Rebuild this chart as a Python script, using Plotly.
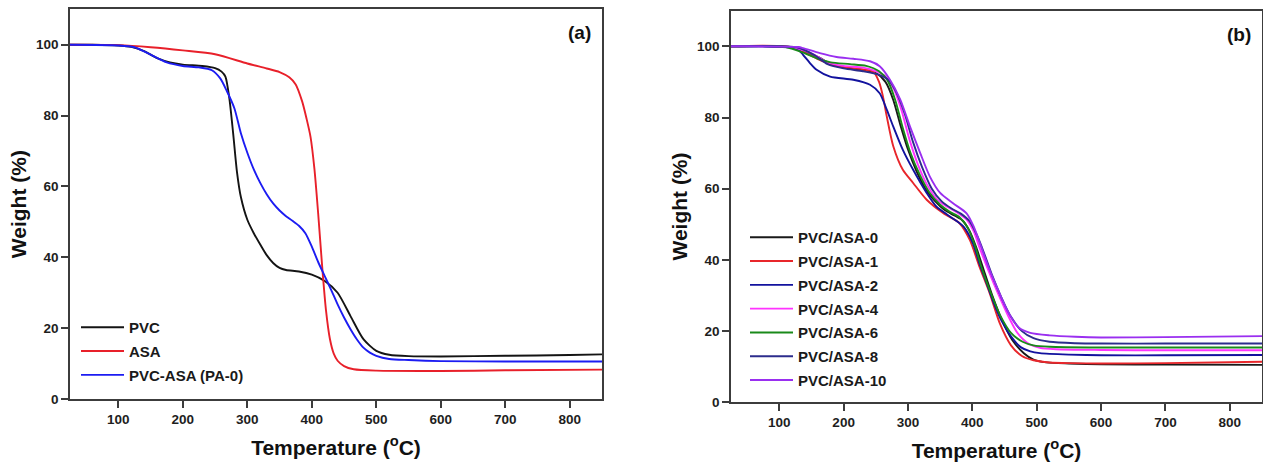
import plotly.graph_objects as go

# ---------------- (a) neat polymers and blend ----------------
pvc_T = [25, 60, 100, 120, 140, 160, 180, 200, 230, 250, 260, 266, 272, 278, 284, 290, 300, 310,
         320, 330, 340, 350, 360, 380, 400, 420, 440, 460, 480, 500, 520, 550, 600, 700, 800, 850]
pvc_W = [100, 100, 99.8, 99.4, 98.2, 96.2, 95.0, 94.4, 94.0, 93.4, 92.4, 91.0, 85.0, 75.0, 64.0, 57.0,
         50.6, 46.8, 43.6, 40.6, 38.4, 37.0, 36.4, 36.0, 35.1, 33.3, 30.0, 23.4, 16.9, 13.6, 12.5,
         12.1, 12.0, 12.2, 12.4, 12.6]

asa_T = [25, 100, 150, 200, 250, 300, 330, 350, 365, 375, 385, 392, 398, 404, 410, 416, 422, 428,
         434, 440, 450, 465, 500, 600, 700, 850]
asa_W = [100, 99.9, 99.3, 98.4, 97.3, 94.7, 93.3, 92.3, 90.8, 88.8, 84.0, 79.0, 74.0, 65.0, 52.0,
         37.5, 25.0, 17.0, 12.8, 10.8, 9.3, 8.4, 8.0, 7.9, 8.1, 8.3]

pa0_T = [25, 100, 125, 150, 175, 200, 225, 245, 258, 268, 280, 290, 300, 310, 320, 330, 340, 350,
         360, 370, 380, 390, 400, 410, 420, 430, 440, 450, 460, 470, 480, 490, 500, 520, 550,
         600, 700, 850]
pa0_W = [100, 99.8, 99.3, 97.2, 95.0, 94.0, 93.6, 92.8, 90.5, 87.0, 82.0, 75.0, 69.5, 64.8, 61.0,
         57.8, 55.2, 53.2, 51.6, 50.3, 48.9, 46.8, 43.0, 38.6, 34.7, 30.8, 26.7, 23.0, 19.7,
         16.8, 14.5, 13.1, 12.2, 11.3, 11.0, 10.7, 10.6, 10.6]

# ---------------- (b) PVC/ASA composites ----------------
b0_T = [25, 120, 160, 180, 200, 225, 250, 265, 277, 288, 300, 313, 327, 342, 357, 372, 385, 396,
        406, 417, 430, 445, 462, 480, 495, 515, 550, 600, 700, 850]
b0_W = [100, 99.7, 97.0, 95.0, 94.0, 93.5, 92.5, 90.0, 85.0, 78.0, 71.0, 65.0, 60.0, 56.5, 54.0,
        52.5, 51.0, 48.0, 43.5, 37.5, 30.5, 23.5, 17.5, 13.8, 12.0, 11.2, 10.9, 10.7, 10.6, 10.5]

b1_T = [25, 120, 165, 190, 210, 230, 246, 255, 261, 267, 277, 292, 308, 329, 355, 380, 396, 411,
        427, 443, 460, 477, 495, 520, 550, 600, 700, 850]
b1_W = [100, 99.7, 96.0, 94.5, 94.0, 93.5, 92.9, 90.0, 86.0, 80.3, 72.0, 65.3, 61.6, 56.9, 53.1,
        50.3, 45.6, 38.1, 30.6, 22.0, 16.0, 13.0, 11.8, 11.2, 11.0, 10.9, 11.0, 11.4]

b2_T = [25, 115, 130, 137, 148, 158, 179, 215, 241, 256, 267, 277, 292, 308, 329, 344, 365, 386,
        401, 410, 420, 432, 445, 460, 475, 490, 505, 550, 600, 700, 850]
b2_W = [100, 99.7, 99.0, 97.6, 95.2, 93.4, 91.5, 90.6, 89.2, 86.8, 82.2, 77.5, 70.9, 65.3, 58.8,
        55.0, 52.2, 49.4, 44.6, 39.5, 34.5, 28.5, 23.0, 18.5, 15.5, 14.3, 13.8, 13.4, 13.2, 13.2, 13.3]

b4_T = [25, 120, 150, 175, 200, 230, 250, 265, 278, 290, 302, 315, 330, 345, 360, 375, 390, 402,
        412, 425, 440, 455, 470, 487, 505, 530, 600, 700, 850]
b4_W = [100, 99.7, 98.0, 95.5, 94.5, 94.0, 93.0, 91.5, 88.0, 82.0, 74.0, 67.0, 61.0, 57.0, 55.0,
        53.5, 51.5, 48.0, 43.0, 37.0, 30.5, 24.5, 19.5, 16.5, 15.3, 14.9, 14.7, 14.6, 14.6]

b6_T = [25, 110, 140, 160, 180, 210, 235, 255, 268, 280, 292, 304, 318, 333, 350, 365, 380, 393,
        404, 414, 428, 443, 460, 478, 495, 520, 600, 700, 850]
b6_W = [100, 99.8, 98.0, 96.5, 95.5, 95.0, 94.5, 93.0, 90.5, 85.0, 77.0, 70.0, 64.0, 59.0, 55.5,
        53.5, 52.0, 49.0, 44.0, 38.0, 31.0, 24.5, 19.5, 17.0, 16.0, 15.6, 15.4, 15.4, 15.4]

b8_T = [25, 130, 155, 175, 200, 230, 255, 270, 282, 295, 308, 322, 337, 352, 367, 382, 395, 407,
        418, 430, 445, 460, 477, 495, 520, 560, 600, 700, 850]
b8_W = [100, 99.6, 97.5, 95.0, 93.8, 93.0, 92.0, 90.5, 87.0, 81.0, 73.0, 66.0, 60.0, 56.5, 54.5,
        53.0, 51.0, 47.0, 42.0, 36.0, 29.5, 24.0, 20.0, 18.0, 17.0, 16.6, 16.5, 16.5, 16.5]

b10_T = [25, 130, 137, 163, 189, 215, 241, 256, 272, 288, 303, 319, 334, 350, 370, 391, 402, 413,
         425, 440, 455, 472, 490, 520, 560, 600, 700, 850]
b10_W = [100, 99.8, 99.5, 98.1, 97.0, 96.5, 95.8, 94.4, 90.6, 85.0, 77.5, 70.0, 63.4, 58.8, 55.9,
         53.1, 49.4, 44.0, 38.0, 31.5, 25.5, 21.0, 19.5, 18.8, 18.4, 18.2, 18.3, 18.6]

T_TICKS = [100, 200, 300, 400, 500, 600, 700, 800]
W_TICKS = [0, 20, 40, 60, 80, 100]

panel_a = [
    ("PVC", pvc_T, pvc_W, "#141414"),
    ("ASA", asa_T, asa_W, "#e8202a"),
    ("PVC-ASA (PA-0)", pa0_T, pa0_W, "#1c1cf2"),
]
panel_b = [
    ("PVC/ASA-0", b0_T, b0_W, "#1a1a1a"),
    ("PVC/ASA-1", b1_T, b1_W, "#e8262b"),
    ("PVC/ASA-2", b2_T, b2_W, "#12129e"),
    ("PVC/ASA-4", b4_T, b4_W, "#ff33ff"),
    ("PVC/ASA-6", b6_T, b6_W, "#1a8a1a"),
    ("PVC/ASA-8", b8_T, b8_W, "#2c2c8c"),
    ("PVC/ASA-10", b10_T, b10_W, "#9a2ff0"),
]

FONT = "Liberation Sans, Arial, sans-serif"
fig = go.Figure()

for i, (name, t, w, c) in enumerate(panel_a):
    fig.add_trace(go.Scatter(
        x=t, y=w, name=name, mode="lines",
        line=dict(color=c, width=1.9, shape="spline", smoothing=0.7),
        xaxis="x", yaxis="y", legend="legend", legendgroup="a%d" % i,
    ))
for i, (name, t, w, c) in enumerate(panel_b):
    fig.add_trace(go.Scatter(
        x=t, y=w, name=name, mode="lines",
        line=dict(color=c, width=1.9, shape="spline", smoothing=0.7),
        xaxis="x2", yaxis="y2", legend="legend2", legendgroup="b%d" % i,
    ))

W_FIG, H_FIG = 1263, 465
tickfont = dict(family=FONT, size=13.5, color="#1e1e1e", weight="bold")
titlefont = dict(family=FONT, size=21, color="#111111", weight="bold")


def xax(domain):
    return dict(
        domain=domain, range=[25, 850], tickvals=T_TICKS,
        showline=True, mirror=True, linecolor="#3c3c3c", linewidth=1.6,
        ticks="outside", ticklen=7, tickwidth=1.5, tickcolor="#3c3c3c",
        showgrid=False, zeroline=False, tickfont=tickfont, automargin=False,
        title=dict(text="Temperature (<sup>o</sup>C)", font=titlefont, standoff=14),
    )


def yax(domain, anchor):
    return dict(
        domain=domain, range=[0, 110], tickvals=W_TICKS, anchor=anchor,
        showline=True, mirror=True, linecolor="#3c3c3c", linewidth=1.6,
        ticks="outside", ticklen=7, tickwidth=1.5, tickcolor="#3c3c3c",
        showgrid=False, zeroline=False, tickfont=tickfont, automargin=False,
        title=dict(text="Weight (%)", font=titlefont, standoff=4),
    )


legfont = dict(family=FONT, size=15, color="#1a1a1a", weight="bold")

fig.update_layout(
    width=W_FIG, height=H_FIG,
    margin=dict(l=0, r=0, t=0, b=0),
    paper_bgcolor="white", plot_bgcolor="white",
    xaxis=dict(xax([70 / W_FIG, 602 / W_FIG]), anchor="y"),
    yaxis=yax([66 / H_FIG, 455.7 / H_FIG], "x"),
    xaxis2=dict(xax([731 / W_FIG, 1262 / W_FIG]), anchor="y2"),
    yaxis2=yax([62.7 / H_FIG, 454.3 / H_FIG], "x2"),
    legend=dict(
        x=76 / W_FIG, y=(H_FIG - 311) / H_FIG, xanchor="left", yanchor="top",
        bgcolor="rgba(0,0,0,0)", borderwidth=0, font=legfont,
        itemwidth=43, traceorder="grouped", tracegroupgap=1.3,
    ),
    legend2=dict(
        x=745 / W_FIG, y=(H_FIG - 221) / H_FIG, xanchor="left", yanchor="top",
        bgcolor="rgba(0,0,0,0)", borderwidth=0, font=legfont,
        itemwidth=43, traceorder="grouped", tracegroupgap=1.3,
    ),
    showlegend=True,
    annotations=[
        dict(text="(a)", x=836, y=103.4, xref="x", yref="y", xanchor="right", yanchor="middle",
             showarrow=False, font=dict(family=FONT, size=19, color="#111111", weight="bold")),
        dict(text="(b)", x=836, y=103.4, xref="x2", yref="y2", xanchor="right", yanchor="middle",
             showarrow=False, font=dict(family=FONT, size=19, color="#111111", weight="bold")),
    ],
)

fig.write_html("out.html")
